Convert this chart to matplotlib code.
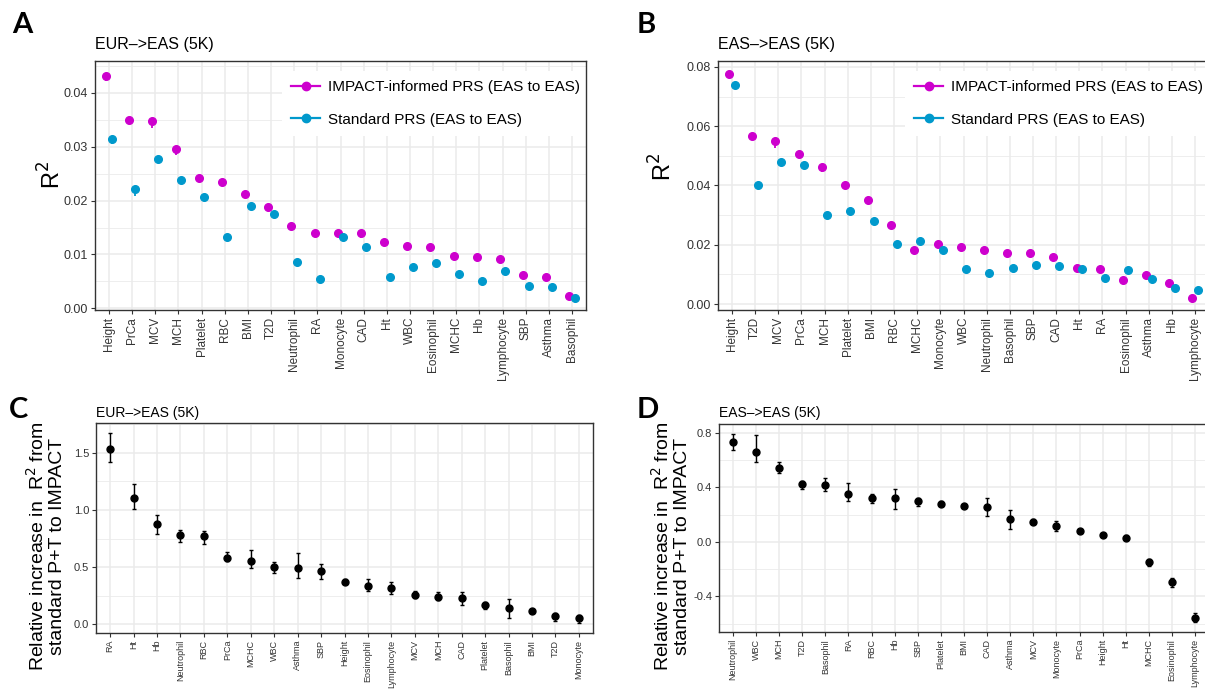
import numpy as np
import matplotlib
matplotlib.use("Agg")
import matplotlib.pyplot as plt
from matplotlib.lines import Line2D
from matplotlib.ticker import MultipleLocator, FormatStrFormatter, NullLocator

plt.rcParams["font.family"] = ["Liberation Sans", "DejaVu Sans"]
plt.rcParams["axes.unicode_minus"] = False

MAGENTA = "#CD00CD"
BLUE = "#0099CC"

# ---- panel A: EUR->EAS, R2 per trait ----
a_traits = ["Height", "PrCa", "MCV", "MCH", "Platelet", "RBC", "BMI", "T2D", "Neutrophil", "RA",
            "Monocyte", "CAD", "Ht", "WBC", "Eosinophil", "MCHC", "Hb", "Lymphocyte", "SBP",
            "Asthma", "Basophil"]
a_impact = [0.0431, 0.0350, 0.0347, 0.0296, 0.0241, 0.0234, 0.0213, 0.0188, 0.0152, 0.0140,
            0.0139, 0.0139, 0.0124, 0.0115, 0.0113, 0.0098, 0.0096, 0.0091, 0.0062, 0.0058, 0.0023]
a_impact_lo = [0.0010, 0.0008, 0.0013, 0.0011, 0.0006, 0.0007, 0.0006, 0.0006, 0.0006, 0.0008,
               0.0006, 0.0009, 0.0005, 0.0003, 0.0003, 0.0004, 0.0003, 0.0004, 0.0003, 0.0003, 0.0002]
a_impact_hi = [0.0006, 0.0004, 0.0005, 0.0004, 0.0004, 0.0004, 0.0003, 0.0003, 0.0003, 0.0003,
               0.0003, 0.0003, 0.0002, 0.0002, 0.0002, 0.0002, 0.0002, 0.0002, 0.0002, 0.0002, 0.0002]
a_std = [0.0315, 0.0222, 0.0277, 0.0239, 0.0207, 0.0132, 0.0190, 0.0176, 0.0086, 0.0055,
         0.0133, 0.0113, 0.0059, 0.0077, 0.0085, 0.0063, 0.0051, 0.0069, 0.0042, 0.0039, 0.0020]
a_std_lo = [0.0010, 0.0013, 0.0008, 0.0008, 0.0007, 0.0004, 0.0004, 0.0005, 0.0003, 0.0003,
            0.0004, 0.0004, 0.0003, 0.0003, 0.0003, 0.0003, 0.0003, 0.0003, 0.0003, 0.0003, 0.0002]
a_std_hi = [0.0005, 0.0005, 0.0004, 0.0004, 0.0003, 0.0003, 0.0003, 0.0003, 0.0002, 0.0002,
            0.0002, 0.0002, 0.0002, 0.0002, 0.0002, 0.0002, 0.0002, 0.0002, 0.0002, 0.0002, 0.0002]

# ---- panel B: EAS->EAS, R2 per trait ----
b_traits = ["Height", "T2D", "MCV", "PrCa", "MCH", "Platelet", "BMI", "RBC", "MCHC", "Monocyte",
            "WBC", "Neutrophil", "Basophil", "SBP", "CAD", "Ht", "RA", "Eosinophil", "Asthma",
            "Hb", "Lymphocyte"]
b_impact = [0.0776, 0.0566, 0.0550, 0.0505, 0.0462, 0.0401, 0.0352, 0.0267, 0.0181, 0.0202,
            0.0193, 0.0183, 0.0172, 0.0171, 0.0160, 0.0121, 0.0118, 0.0081, 0.0099, 0.0072, 0.0021]
b_impact_lo = [0.0015, 0.0012, 0.0022, 0.0012, 0.0018, 0.0006, 0.0008, 0.0012, 0.0008, 0.0006,
               0.0005, 0.0005, 0.0008, 0.0006, 0.0006, 0.0004, 0.0004, 0.0004, 0.0004, 0.0004, 0.0004]
b_impact_hi = [0.0008, 0.0008, 0.0007, 0.0005, 0.0005, 0.0004, 0.0003, 0.0003, 0.0003, 0.0003,
               0.0003, 0.0003, 0.0003, 0.0003, 0.0003, 0.0003, 0.0003, 0.0003, 0.0003, 0.0003, 0.0003]
b_std = [0.0740, 0.0400, 0.0480, 0.0470, 0.0300, 0.0314, 0.0280, 0.0203, 0.0213, 0.0182,
         0.0117, 0.0106, 0.0123, 0.0132, 0.0128, 0.0118, 0.0088, 0.0116, 0.0085, 0.0055, 0.0046]
b_std_lo = [0.0015, 0.0008, 0.0015, 0.0012, 0.0010, 0.0010, 0.0007, 0.0006, 0.0012, 0.0006,
            0.0004, 0.0004, 0.0004, 0.0004, 0.0004, 0.0004, 0.0004, 0.0004, 0.0004, 0.0004, 0.0004]
b_std_hi = [0.0008, 0.0006, 0.0005, 0.0004, 0.0004, 0.0004, 0.0003, 0.0003, 0.0003, 0.0003,
            0.0003, 0.0003, 0.0003, 0.0003, 0.0003, 0.0003, 0.0003, 0.0003, 0.0003, 0.0003, 0.0003]

# ---- panel C: EUR->EAS relative increase ----
c_traits = ["RA", "Ht", "Hb", "Neutrophil", "RBC", "PrCa", "MCHC", "WBC", "Asthma", "SBP",
            "Height", "Eosinophil", "Lymphocyte", "MCV", "MCH", "CAD", "Platelet", "Basophil",
            "BMI", "T2D", "Monocyte"]
c_val = [1.535, 1.105, 0.874, 0.780, 0.771, 0.576, 0.558, 0.500, 0.497, 0.471,
         0.371, 0.336, 0.319, 0.257, 0.243, 0.231, 0.167, 0.146, 0.120, 0.073, 0.053]
c_low = [1.420, 1.012, 0.789, 0.722, 0.705, 0.550, 0.494, 0.447, 0.404, 0.401,
         0.351, 0.295, 0.266, 0.228, 0.213, 0.167, 0.135, 0.058, 0.108, 0.032, 0.012]
c_high = [1.675, 1.228, 0.953, 0.825, 0.818, 0.629, 0.649, 0.544, 0.623, 0.532,
          0.395, 0.395, 0.368, 0.292, 0.284, 0.284, 0.199, 0.219, 0.132, 0.096, 0.079]

# ---- panel D: EAS->EAS relative increase ----
d_traits = ["Neutrophil", "WBC", "MCH", "T2D", "Basophil", "RA", "RBC", "Hb", "SBP", "Platelet",
            "BMI", "CAD", "Asthma", "MCV", "Monocyte", "PrCa", "Height", "Ht", "MCHC",
            "Eosinophil", "Lymphocyte"]
d_val = [0.736, 0.663, 0.542, 0.422, 0.415, 0.351, 0.321, 0.319, 0.297, 0.280,
         0.260, 0.258, 0.169, 0.147, 0.118, 0.081, 0.054, 0.032, -0.150, -0.294, -0.557]
d_low = [0.673, 0.584, 0.503, 0.388, 0.371, 0.297, 0.287, 0.245, 0.263, 0.260,
         0.252, 0.191, 0.098, 0.128, 0.079, 0.073, 0.046, 0.015, -0.174, -0.329, -0.590]
d_high = [0.790, 0.782, 0.584, 0.444, 0.469, 0.429, 0.351, 0.388, 0.321, 0.300,
          0.268, 0.324, 0.231, 0.169, 0.157, 0.089, 0.062, 0.047, -0.128, -0.262, -0.525]

W, H = 1205, 689


def box(left, top, right, bottom):
    # pixel box -> figure fraction
    return [left / W, 1 - bottom / H, (right - left) / W, (bottom - top) / H]


def style(ax, traits, major, minor, fmt, tick_size, xtick_size):
    ax.set_axisbelow(True)
    ax.set_xticks(np.arange(len(traits)))
    ax.set_xticklabels(traits, rotation=90, fontsize=xtick_size, color="#333333")
    ax.set_xlim(-0.6, len(traits) - 0.4)
    ax.xaxis.set_minor_locator(NullLocator())
    ax.yaxis.set_major_locator(MultipleLocator(major))
    ax.yaxis.set_minor_locator(MultipleLocator(minor))
    ax.yaxis.set_major_formatter(FormatStrFormatter(fmt))
    ax.grid(True, which="major", color="#EBEBEB", lw=1.1)
    ax.grid(True, which="minor", axis="y", color="#EBEBEB", lw=0.6)
    ax.tick_params(axis="both", which="major", length=3, width=0.8, color="#333333", pad=2)
    ax.tick_params(axis="y", which="major", labelsize=tick_size, labelcolor="#333333")
    ax.tick_params(which="minor", length=0)
    for s in ax.spines.values():
        s.set_color("#333333")
        s.set_linewidth(1.0)
        s.set_zorder(4)


def r2_panel(ax, traits, impact, imp_lo, imp_hi, std, std_lo, std_hi, ylim, major, minor):
    x = np.arange(len(traits))
    ax.errorbar(x - 0.12, impact, yerr=[imp_lo, imp_hi], fmt="o", color=MAGENTA,
                ms=5.5, elinewidth=1.3, capsize=0, zorder=3)
    ax.errorbar(x + 0.12, std, yerr=[std_lo, std_hi], fmt="o", color=BLUE,
                ms=5.5, elinewidth=1.3, capsize=0, zorder=3)
    ax.set_ylim(*ylim)
    style(ax, traits, major, minor, "%.2f", 9, 8.5)
    handles = [Line2D([], [], color=MAGENTA, marker="o", ms=6, lw=1.6),
               Line2D([], [], color=BLUE, marker="o", ms=6, lw=1.6)]
    leg = ax.legend(handles, ["IMPACT-informed PRS (EAS to EAS)", "Standard PRS (EAS to EAS)"],
                    loc="upper left", bbox_to_anchor=(0.365, 0.99), fontsize=11,
                    frameon=True, fancybox=False, framealpha=1, edgecolor="none",
                    handlelength=1.9, handletextpad=0.5, labelspacing=1.2, borderpad=0.6)
    leg.get_frame().set_facecolor("white")
    leg.set_zorder(2)


def rel_panel(ax, traits, val, low, high, ylim, major, minor):
    x = np.arange(len(traits))
    val = np.array(val)
    err = [val - np.array(low), np.array(high) - val]
    ax.errorbar(x, val, yerr=err, fmt="o", color="black", ms=5, elinewidth=1.0,
                capsize=1.6, capthick=1.0, zorder=3)
    ax.set_ylim(*ylim)
    style(ax, traits, major, minor, "%.1f", 8, 6.5)


fig = plt.figure(figsize=(W / 100, H / 100), dpi=100)

ax_a = fig.add_axes(box(95, 61, 586, 310))
r2_panel(ax_a, a_traits, a_impact, a_impact_lo, a_impact_hi, a_std, a_std_lo, a_std_hi,
         (-0.0003, 0.0459), 0.01, 0.005)

ax_b = fig.add_axes(box(718, 61, 1209, 310))
r2_panel(ax_b, b_traits, b_impact, b_impact_lo, b_impact_hi, b_std, b_std_lo, b_std_hi,
         (-0.002, 0.082), 0.02, 0.01)

ax_c = fig.add_axes(box(96, 423, 593, 633))
rel_panel(ax_c, c_traits, c_val, c_low, c_high, (-0.075, 1.76), 0.5, 0.25)

ax_d = fig.add_axes(box(719, 424, 1209, 632))
rel_panel(ax_d, d_traits, d_val, d_low, d_high, (-0.662, 0.866), 0.4, 0.2)

# titles
fig.text(95 / W, 1 - 45 / H, "EUR–>EAS (5K)", fontsize=11.5, va="center", ha="left")
fig.text(718 / W, 1 - 45 / H, "EAS–>EAS (5K)", fontsize=11.5, va="center", ha="left")
fig.text(96 / W, 1 - 413 / H, "EUR–>EAS (5K)", fontsize=10, va="center", ha="left")
fig.text(719 / W, 1 - 413 / H, "EAS–>EAS (5K)", fontsize=10, va="center", ha="left")

# y labels
fig.text(52 / W, 1 - 175 / H, "R$^2$", fontsize=17, rotation=90, ha="center", va="center")
fig.text(663 / W, 1 - 167 / H, "R$^2$", fontsize=17, rotation=90, ha="center", va="center")
rel_label = "Relative increase in  R$^2$ from\nstandard P+T to IMPACT"
fig.text(46 / W, 1 - 546 / H, rel_label, fontsize=14, rotation=90, ha="center",
         va="center", multialignment="center", linespacing=1.05)
fig.text(671 / W, 1 - 546 / H, rel_label, fontsize=14, rotation=90, ha="center",
         va="center", multialignment="center", linespacing=1.05)

# panel letters
for letter, px, py in [("A", 22, 25), ("B", 646, 25), ("C", 19, 410), ("D", 648, 410)]:
    fig.text(px / W, 1 - py / H, letter, fontsize=21, fontweight="bold",
             family=["Lato", "DejaVu Sans"], ha="center", va="center")

fig.savefig("out.png", dpi=100)
